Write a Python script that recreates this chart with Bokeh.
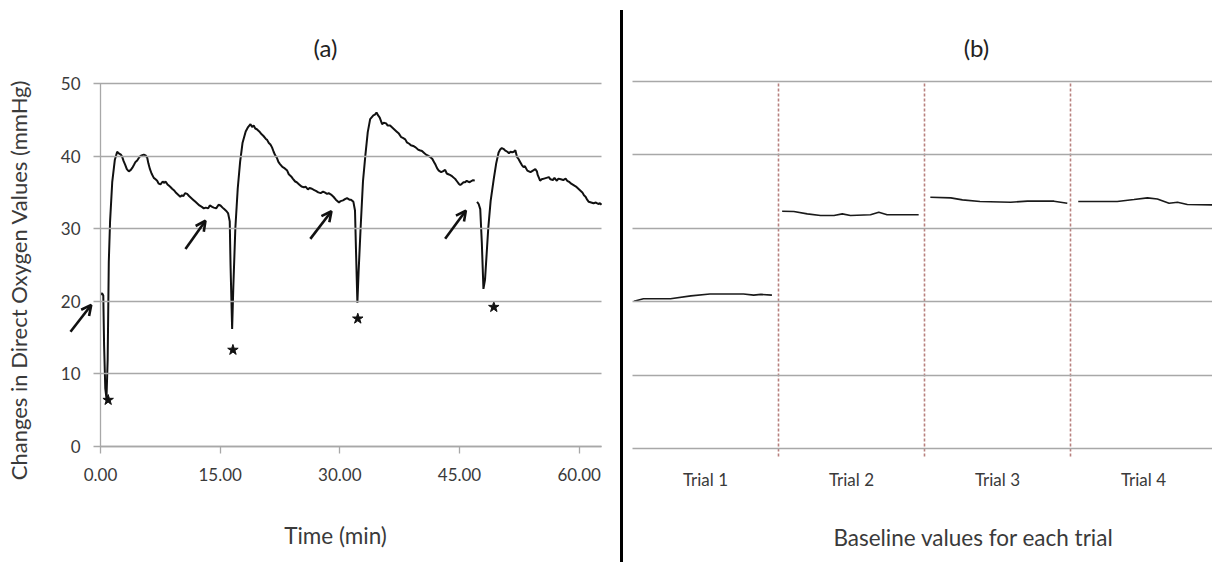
import math
from bokeh.plotting import figure
from bokeh.models import (FixedTicker, Arrow, OpenHead, Div, Label,
                          ColumnDataSource, Range1d, PrintfTickFormatter)
from bokeh.layouts import row
from bokeh.embed import file_html
from bokeh.resources import INLINE

# ---------------- Panel (a) data: (time in min, oxygen in mmHg) ----------------
trace_part1 = [
    (0.0, 20.9), (0.2, 21.1), (0.35, 20.8), (0.45, 14.0), (0.6, 8.0), (0.75, 6.6), (0.9, 12.0),
    (1.04, 25.4), (1.2, 31.0), (1.47, 36.4), (1.8, 39.5), (2.09, 40.6), (2.25, 40.4),
    (2.4, 40.3), (2.55, 40.2), (2.72, 39.9), (2.9, 39.3), (3.1, 38.8), (3.3, 38.2),
    (3.55, 37.9), (3.8, 38.1), (4.0, 38.4), (4.2, 38.8), (4.39, 39.2), (4.6, 39.4),
    (4.9, 39.9), (5.15, 40.1), (5.43, 40.2), (5.65, 40.1), (5.85, 39.8), (6.0, 39.0),
    (6.2, 38.2), (6.4, 37.6), (6.68, 37.0), (6.9, 36.8), (7.1, 36.6), (7.3, 36.2),
    (7.52, 36.1), (7.8, 36.5), (8.0, 36.3), (8.15, 36.5), (8.4, 36.1), (8.6, 35.9),
    (8.8, 35.7), (8.98, 35.5), (9.2, 35.3), (9.5, 34.9), (9.7, 34.7), (10.0, 34.4),
    (10.2, 34.6), (10.4, 34.5), (10.6, 34.9), (10.86, 34.8), (11.1, 34.5), (11.4, 34.2),
    (11.6, 34.0), (11.9, 33.7), (12.1, 33.5), (12.4, 33.2), (12.7, 33.0), (12.95, 32.8),
    (13.2, 32.9), (13.5, 32.8), (13.7, 33.2), (14.0, 33.0), (14.2, 32.9), (14.5, 32.8),
    (14.8, 33.3), (15.04, 33.2), (15.3, 32.9), (15.5, 32.7), (15.8, 32.4), (16.0, 32.1),
    (16.2, 31.0), (16.3, 25.0), (16.5, 16.2), (16.65, 22.0), (16.9, 30.0), (17.2, 35.5),
    (17.5, 39.2), (17.8, 41.8), (18.2, 43.4), (18.5, 44.0), (18.8, 44.4), (19.0, 44.0),
    (19.2, 44.2), (19.4, 43.8), (19.6, 43.7), (19.9, 43.4), (20.2, 43.0), (20.4, 42.8),
    (20.7, 42.4), (20.9, 42.2), (21.1, 41.8), (21.3, 41.6), (21.5, 41.2), (21.7, 40.6),
    (21.9, 40.1), (22.1, 39.8), (22.3, 39.2), (22.5, 38.9), (22.8, 38.5), (23.1, 38.3),
    (23.4, 38.0), (23.6, 37.5), (23.9, 37.2), (24.1, 36.9), (24.4, 36.5), (24.6, 36.4),
    (24.9, 36.1), (25.2, 35.8), (25.5, 35.7), (25.7, 35.8), (26.0, 35.4), (26.2, 35.6),
    (26.5, 35.5), (26.8, 35.3), (27.0, 35.2), (27.3, 35.0), (27.6, 34.9), (27.9, 35.1),
    (28.1, 35.0), (28.4, 34.8), (28.6, 34.9), (28.9, 34.7), (29.2, 34.4), (29.5, 34.0),
    (29.9, 33.6), (30.1, 33.8), (30.4, 33.9), (30.7, 34.1), (30.9, 34.2), (31.2, 34.0),
    (31.4, 34.0), (31.7, 33.7), (31.9, 32.5), (32.05, 26.0), (32.2, 19.8), (32.35, 24.0),
    (32.6, 30.0), (32.9, 36.5), (33.2, 40.1), (33.5, 43.3), (33.8, 45.1), (34.2, 45.6),
    (34.4, 45.7), (34.6, 46.0), (34.8, 45.6), (35.0, 45.3), (35.3, 44.4), (35.5, 44.6),
    (35.8, 44.5), (36.0, 44.2), (36.3, 44.2), (36.6, 43.9), (36.9, 43.6), (37.1, 43.4),
    (37.4, 43.1), (37.7, 42.6), (37.9, 42.5), (38.2, 42.3), (38.4, 41.9), (38.7, 41.7),
    (38.9, 41.5), (39.2, 41.4), (39.5, 41.2), (39.8, 40.9), (40.0, 40.8), (40.3, 40.7),
    (40.5, 40.5), (40.8, 40.2), (41.0, 40.1), (41.3, 39.9), (41.6, 39.6), (41.8, 39.2),
    (42.0, 38.8), (42.2, 38.3), (42.4, 38.0), (42.7, 37.8), (42.9, 37.9), (43.2, 38.1),
    (43.4, 37.6), (43.6, 37.5), (43.8, 37.4), (44.1, 37.2), (44.3, 37.0), (44.5, 36.8),
    (44.7, 36.5), (44.9, 36.2), (45.1, 36.0), (45.3, 36.2), (45.5, 36.4), (45.7, 36.4),
    (45.9, 36.6), (46.2, 36.4), (46.4, 36.5), (46.7, 36.7), (46.9, 36.6),
]
trace_part2 = [
    (47.2, 33.7), (47.4, 33.4), (47.6, 32.7), (47.8, 28.0), (48.0, 21.7), (48.2, 23.0),
    (48.6, 30.0), (48.9, 33.8), (49.3, 36.9), (49.6, 39.0), (49.9, 40.5), (50.1, 40.9),
    (50.3, 41.1), (50.5, 41.0), (50.7, 40.8), (51.0, 40.6), (51.2, 40.4), (51.4, 40.6),
    (51.6, 40.5), (51.8, 40.6), (52.0, 40.8), (52.2, 39.9), (52.4, 39.6), (52.6, 39.2),
    (52.8, 38.8), (53.0, 38.5), (53.2, 38.6), (53.5, 38.0), (53.7, 37.9), (53.9, 37.8),
    (54.2, 38.0), (54.5, 38.2), (54.7, 37.9), (54.8, 37.4), (55.0, 36.9), (55.1, 36.6),
    (55.3, 36.8), (55.6, 36.9), (55.9, 37.0), (56.2, 37.1), (56.4, 36.8), (56.7, 36.7),
    (56.9, 37.0), (57.2, 36.6), (57.4, 36.9), (57.7, 36.8), (58.0, 36.7), (58.3, 36.9),
    (58.5, 36.6), (58.8, 36.4), (59.0, 36.2), (59.3, 36.0), (59.6, 35.8), (59.8, 35.6),
    (60.1, 35.3), (60.4, 35.0), (60.6, 34.6), (60.8, 34.4), (61.0, 34.0), (61.2, 33.7),
    (61.5, 33.6), (61.8, 33.5), (62.1, 33.6), (62.4, 33.4), (62.6, 33.5), (62.8, 33.3),
]

star_t = [0.96, 16.6, 32.25, 49.3]
star_v = [6.4, 13.3, 17.6, 19.2]

arrow_t0 = [-3.76, 10.65, 26.3, 43.2]
arrow_v0 = [15.8, 27.2, 28.6, 28.6]
arrow_t1 = [-1.16, 13.16, 28.95, 45.8]
arrow_v1 = [19.5, 31.1, 32.4, 32.5]

x_ticks_a = [0, 15, 30, 45, 60]
y_ticks = [0, 10, 20, 30, 40, 50]

# ---------------- Panel (b) data ----------------
trial_labels = ["Trial 1", "Trial 2", "Trial 3", "Trial 4"]
trial_pos = [
    [0.01, 0.075, 0.26, 0.40, 0.53, 0.76, 0.83, 0.88, 0.955],
    [0.025, 0.105, 0.197, 0.288, 0.38, 0.437, 0.493, 0.63, 0.687, 0.744, 0.96],
    [0.04, 0.18, 0.26, 0.38, 0.59, 0.705, 0.887, 0.978],
    [0.053, 0.32, 0.435, 0.527, 0.595, 0.675, 0.733, 0.80, 0.973],
]
trial_vals = [
    [20.07, 20.4, 20.4, 20.8, 21.05, 21.05, 20.9, 21.0, 20.9],
    [32.33, 32.3, 31.97, 31.74, 31.74, 31.97, 31.74, 31.85, 32.2, 31.85, 31.85],
    [34.24, 34.15, 33.88, 33.65, 33.56, 33.7, 33.7, 33.42],
    [33.65, 33.65, 33.92, 34.15, 34.0, 33.42, 33.56, 33.24, 33.2],
]

FONT = "Lato"
GRID = "#a8a8a8"
TXT = "#3a3a3a"
T_END = 62.8
Y_MAX = 50
BASE_LEVEL = -1.09   # bottom end of the trial dividers in panel (b)


def text_label(p, x, y, text, size, angle=0.0, color=TXT):
    p.add_layout(Label(x=x, y=y, text=text, text_font=FONT, text_font_size=size,
                       text_color=color, text_align="center", text_baseline="middle",
                       angle=angle))


# ---------------- Panel (a) ----------------
# the plotting frame covers the whole canvas; axes are pinned at t=0 and value=0
p1 = figure(width=620, height=562, x_range=Range1d(-12.534, 65.18),
            y_range=Range1d(-15.978, 61.43), output_backend="svg", toolbar_location=None,
            min_border_left=0, min_border_right=0, min_border_top=0, min_border_bottom=0)
p1.title.text = ""
p1.outline_line_color = None
p1.xgrid.grid_line_color = None
p1.ygrid.grid_line_color = None

p1.xaxis.ticker = FixedTicker(ticks=x_ticks_a)
p1.xaxis.formatter = PrintfTickFormatter(format="%.2f")
p1.xaxis.bounds = (0, T_END)
p1.xaxis.fixed_location = 0
p1.yaxis.ticker = FixedTicker(ticks=y_ticks)
p1.yaxis.bounds = (0, Y_MAX)
p1.yaxis.fixed_location = 0
for ax in (p1.xaxis, p1.yaxis):
    ax.axis_line_color = GRID
    ax.axis_line_width = 1.3
    ax.major_tick_line_color = GRID
    ax.major_tick_line_width = 1.3
    ax.major_tick_out = 7
    ax.major_tick_in = 0
    ax.minor_tick_line_color = None
    ax.major_label_text_font = FONT
    ax.major_label_text_font_size = "17px"
    ax.major_label_text_color = TXT
# the y-axis ticks reach across the plotting area and act as the horizontal gridlines
p1.yaxis.major_tick_in = 501
p1.xaxis.major_label_standoff = 15
p1.yaxis.major_label_standoff = 13

for part in (trace_part1, trace_part2):
    src = ColumnDataSource(dict(t=[p[0] for p in part], v=[p[1] for p in part]))
    p1.line("t", "v", source=src, line_color="#111111", line_width=2)
p1.scatter(star_t, star_v, marker="star", size=11, fill_color="#111111", line_color="#111111")

for xs, ys, xe, ye in zip(arrow_t0, arrow_v0, arrow_t1, arrow_v1):
    p1.add_layout(Arrow(x_start=xs, y_start=ys, x_end=xe, y_end=ye,
                        line_color="#111111", line_width=2.6,
                        end=OpenHead(size=10, line_width=2.6, line_color="#111111")))

text_label(p1, 28.2, 54.96, "(a)", "24px", color="#222222")
text_label(p1, 29.46, -12.26, "Time (min)", "22.5px")
text_label(p1, -10.28, 22.93, "Changes in Direct Oxygen Values (mmHg)", "22px", angle=math.pi / 2)

# ---------------- separator ----------------
sep = Div(text="", width=3, height=552, margin=(10, 0, 0, 0),
          styles={"background-color": "black"})

# ---------------- Panel (b) ----------------
p2 = figure(width=589, height=562, x_range=Range1d(-0.0616, 580 / 146),
            y_range=Range1d(-15.53, 61.04), output_backend="svg", toolbar_location=None,
            min_border_left=0, min_border_right=0, min_border_top=0, min_border_bottom=0)
p2.title.text = ""
p2.outline_line_color = None
p2.xgrid.grid_line_color = None
p2.ygrid.grid_line_color = None

p2.xaxis.ticker = FixedTicker(ticks=[i + 0.5 for i in range(len(trial_labels))])
p2.xaxis.major_label_overrides = {i + 0.5: lab for i, lab in enumerate(trial_labels)}
p2.xaxis.fixed_location = BASE_LEVEL
p2.xaxis.axis_line_color = None
p2.xaxis.major_tick_line_color = None
p2.xaxis.minor_tick_line_color = None
p2.xaxis.major_tick_out = 0
p2.xaxis.major_tick_in = 0
p2.xaxis.major_label_standoff = 12
p2.xaxis.major_label_text_font = FONT
p2.xaxis.major_label_text_font_size = "17px"
p2.xaxis.major_label_text_color = TXT

# hidden y-axis whose ticks draw the horizontal gridlines of panel (b)
p2.yaxis.ticker = FixedTicker(ticks=y_ticks)
p2.yaxis.fixed_location = 0
p2.yaxis.bounds = (0, Y_MAX)
p2.yaxis.axis_line_color = None
p2.yaxis.major_tick_line_color = GRID
p2.yaxis.major_tick_line_width = 1.3
p2.yaxis.major_tick_out = 0
p2.yaxis.major_tick_in = 580
p2.yaxis.minor_tick_line_color = None
p2.yaxis.major_label_text_color = None

bounds = list(range(1, len(trial_labels)))
p2.segment(x0=bounds, y0=[BASE_LEVEL] * len(bounds), x1=bounds, y1=[Y_MAX] * len(bounds),
           line_color="#b8817f", line_width=1.6, line_dash="3 2")

for i, (pos, vals) in enumerate(zip(trial_pos, trial_vals)):
    p2.line([i + q for q in pos], vals, line_color="#1a1a1a", line_width=1.6)

text_label(p2, 2.356, 54.63, "(b)", "24px", color="#222222")
text_label(p2, 2.336, -12.13, "Baseline values for each trial", "22.5px")

layout = row(p1, sep, p2)
open("out.html", "w").write(file_html(layout, INLINE))
